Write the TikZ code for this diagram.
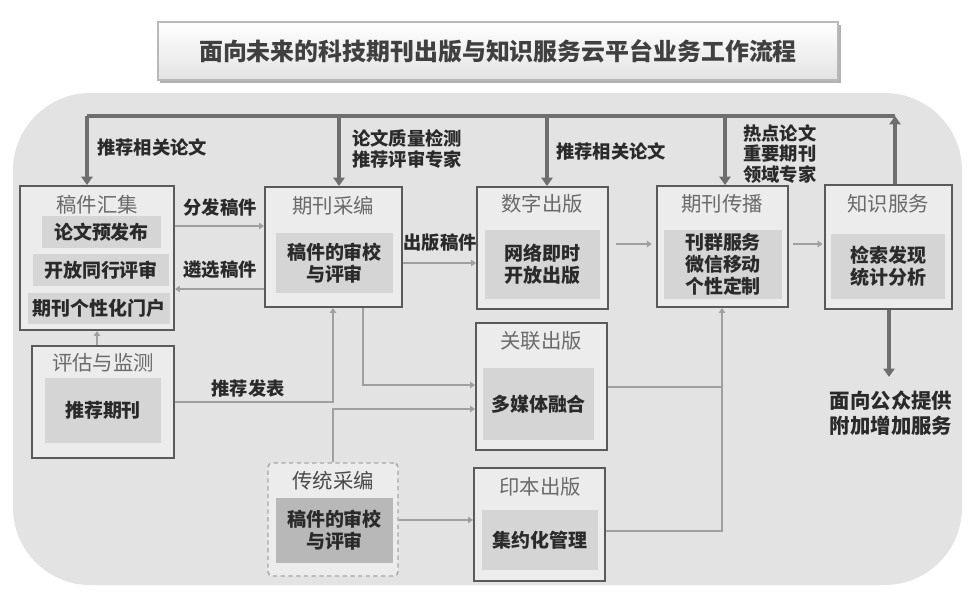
\documentclass[tikz,border=0pt]{standalone}
\usepackage{fontspec}
\newfontfamily\cjk{Noto Sans CJK SC}
\usetikzlibrary{arrows.meta,fit}

\definecolor{bgcol}{HTML}{E3E3E3}
\definecolor{boxfill}{HTML}{ECECEC}
\definecolor{infill}{HTML}{D5D5D5}
\definecolor{darkfill}{HTML}{B8B8B8}
\definecolor{boxline}{HTML}{5A5A5A}
\definecolor{flowgray}{HTML}{A0A0A0}
\definecolor{bargray}{HTML}{6E6E6E}
\definecolor{headgray}{HTML}{6A6A6A}
\definecolor{txtdark}{HTML}{2A2A2A}

\tikzset{
  box/.style={draw=boxline, line width=1.4pt, fill=boxfill, inner sep=0pt},
  dashbox/.style={draw=gray!70, line width=1pt, dash pattern=on 3pt off 2.5pt, rounded corners=3pt, fill=boxfill, inner sep=0pt},
  inbox/.style={fill=infill, inner sep=0pt},
  head/.style={text=headgray, font=\cjk\fontsize{14.5}{17}\selectfont},
  intext/.style={text=txtdark, font=\cjk\bfseries\fontsize{13.5}{15.5}\selectfont, align=center},
  lab/.style={text=txtdark, font=\cjk\bfseries\fontsize{13}{14.5}\selectfont, align=left, inner sep=0pt},
  flow/.style={draw=flowgray, line width=0.9pt, -{Triangle[width=4.5pt,length=3.5pt]}},
  flowline/.style={draw=flowgray, line width=0.9pt},
  bar/.style={draw=bargray, line width=2.2pt},
  bigflow/.style={bar, -{Triangle[width=8pt,length=6pt]}}
}

\begin{document}
\begin{tikzpicture}[x=0.025cm, y=-0.025cm]
\useasboundingbox (0,0) rectangle (977,593);

% background
\fill[bgcol, rounded corners=55pt] (13,93) rectangle (962,585);

% title
\fill[black!30] (160,25) rectangle (841,83);
\node[draw=gray!55, line width=0.8pt, top color=white, bottom color=gray!22, inner sep=0pt, fit={(158,22) (838,80)}] (title) {};
\node[text=black!75, font=\cjk\bfseries\fontsize{17}{20}\selectfont] at (title.center) {面向未来的科技期刊出版与知识服务云平台业务工作流程};

% outer boxes
\node[box, fit={(20,186) (174,330)}] (huizong) {};
\node[box, fit={(265,187) (402,307)}] (caibian) {};
\node[box, fit={(477,187) (608,309)}] (shuzi) {};
\node[box, fit={(657,186) (788,307)}] (chuanbo) {};
\node[box, fit={(825,185) (952,309)}] (zhishi) {};
\node[box, fit={(32,346) (174,458)}] (pinggu) {};
\node[box, fit={(476,323) (607,450)}] (guanlian) {};
\node[box, fit={(474,468) (605,581)}] (yinben) {};
\node[dashbox, fit={(268,463) (398,576)}] (chuantong) {};

% box titles
\node[head] at (97,205) {稿件汇集};
\node[head] at (333,206) {期刊采编};
\node[head] at (542,204) {数字出版};
\node[head] at (722,204) {期刊传播};
\node[head] at (888,204) {知识服务};
\node[head] at (103,363) {评估与监测};
\node[head] at (541,341) {关联出版};
\node[head] at (540,487) {印本出版};
\node[head, text=txtdark!85] at (333,481) {传统采编};

% inner boxes
\node[inbox, fit={(42,216) (161,248)}, label={[intext]center:论文预发布}] (yfb) {};
\node[inbox, fit={(33,254) (169,286)}, label={[intext]center:开放同行评审}] (tpsp) {};
\node[inbox, fit={(28,293) (170,324)}, label={[intext]center:期刊个性化门户}] (menhu) {};
\node[inbox, fit={(276,233) (393,293)}, label={[intext]center:{稿件的审校\\与评审}}] (shenjiao) {};
\node[inbox, fit={(485,230) (600,299)}, label={[intext]center:{网络即时\\开放出版}}] (jishi) {};
\node[inbox, fit={(664,230) (782,299)}, label={[intext]center:{刊群服务\\微信移动\\个性定制}}] (kanqun) {};
\node[inbox, fit={(831,234) (945,299)}, label={[intext]center:{检索发现\\统计分析}}] (jiansuo) {};
\node[inbox, fit={(45,378) (161,443)}, label={[intext]center:推荐期刊}] (tuijian) {};
\node[inbox, fit={(483,368) (594,440)}, label={[intext]center:多媒体融合}] (duomeiti) {};
\node[inbox, fit={(482,510) (598,570)}, label={[intext]center:集约化管理}] (jiyue) {};
\node[inbox, fill=darkfill, fit={(276,498) (393,563)}, label={[intext]center:{稿件的审校\\与评审}}] (ctshen) {};

% thick feedback bar
\draw[bigflow] (zhishi.north -| 895,0) -- (895,116);
\draw[bar] (895,116) -- (87,116);
\foreach \x/\n in {87/huizong, 339/caibian, 547/shuzi, 725/chuanbo}
  \draw[bigflow] (\x,116) -- (\n.north -| \x,0);

\node[lab, anchor=west] at (97,147) {推荐相关论文};
\node[lab, anchor=west] at (352,149) {论文质量检测\\推荐评审专家};
\node[lab, anchor=west] at (556,151) {推荐相关论文};
\node[lab, anchor=west] at (743,154) {热点论文\\重要期刊\\领域专家};

% output
\node[lab, align=center, font=\cjk\bfseries\fontsize{14.5}{17.5}\selectfont, anchor=north] (gongzhong) at (891,391) {面向公众提供\\附加增加服务};
\draw[bigflow, shorten >=10pt] (zhishi.south -| 889,0) -- (gongzhong.north -| 889,0);

% thin flows
\draw[flow] (huizong.east |- 0,226) -- (caibian.west |- 0,226);
\draw[flow] (caibian.west |- 0,289) -- (huizong.east |- 0,289);
\draw[flow] (caibian.east |- 0,263) -- (shuzi.west |- 0,263);
\draw[flow, shorten <=5pt, shorten >=3pt] (shuzi.east |- 0,244) -- (chuanbo.west |- 0,244);
\draw[flow, shorten <=3pt, shorten >=1pt] (chuanbo.east |- 0,244) -- (zhishi.west |- 0,244);
\draw[flow] (pinggu.north -| 97,0) -- (huizong.south -| 97,0);
\draw[flow] (pinggu.east |- 0,402) -| (caibian.south -| 333,0);
\draw[flow] (caibian.south -| 363,0) |- (guanlian.west |- 0,385);
\draw[flow] (chuantong.north -| 333,0) |- (guanlian.west |- 0,409);
\draw[flow] (chuantong.east |- 0,520) -- (yinben.west |- 0,520);
\draw[flow] (guanlian.east |- 0,387) -| (chuanbo.south -| 722,0);
\draw[flowline] (yinben.east |- 0,531) -| (722,387);

\node[lab] at (220,207) {分发稿件};
\node[lab] at (220,270) {遴选稿件};
\node[lab] at (440,243) {出版稿件};
\node[lab] at (248,388) {推荐发表};
\end{tikzpicture}
\end{document}
